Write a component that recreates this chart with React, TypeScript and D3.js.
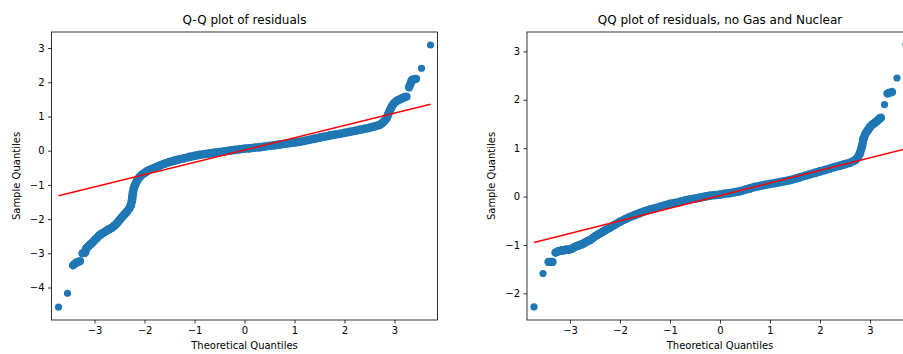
import { useEffect, useRef } from 'react';
import * as d3 from 'd3';

// tick values
const xTicks = [-3, -2, -1, 0, 1, 2, 3];
const leftYTicks = [-4, -3, -2, -1, 0, 1, 2, 3];
const rightYTicks = [-2, -1, 0, 1, 2, 3];

const titles = ['Q-Q plot of residuals', 'QQ plot of residuals, no Gas and Nuclear'];
const xLabel = 'Theoretical Quantiles';
const yLabel = 'Sample Quantiles';

// points (theoretical, sample)
const leftTheoretical = [
  -3.72, -3.54, -3.43, -3.35, -3.29, -3.24, -3.19, -3.16, -3.12, -3.09, -3.05, -3.0, -2.95, -2.9,
  -2.85, -2.8, -2.75, -2.7, -2.65, -2.6, -2.55, -2.5, -2.45, -2.4, -2.35, -2.3, -2.27, -2.25, -2.24,
  -2.23, -2.21, -2.18, -2.14, -2.1, -2.05, -2.0, -1.95, -1.9, -1.8, -1.7, -1.6, -1.5, -1.4, -1.3,
  -1.2, -1.1, -1.0, -0.9, -0.8, -0.7, -0.6, -0.5, -0.4, -0.3, -0.2, -0.1, 0.0, 0.1, 0.2, 0.3, 0.4,
  0.5, 0.6, 0.7, 0.8, 0.9, 1.0, 1.1, 1.2, 1.3, 1.4, 1.5, 1.6, 1.7, 1.8, 1.9, 2.0, 2.1, 2.2, 2.3,
  2.4, 2.5, 2.6, 2.7, 2.75, 2.8, 2.84, 2.87, 2.9, 2.93, 2.96, 3.0, 3.05, 3.09, 3.12, 3.16, 3.19,
  3.24, 3.29, 3.35, 3.43, 3.54, 3.72,
];
const leftSample = [
  -4.57, -4.17, -3.35, -3.26, -3.23, -3.0, -2.98, -2.85, -2.79, -2.75, -2.7, -2.62, -2.55, -2.47,
  -2.42, -2.38, -2.33, -2.29, -2.25, -2.19, -2.12, -2.03, -1.94, -1.86, -1.78, -1.68, -1.58, -1.45,
  -1.32, -1.2, -1.08, -0.97, -0.86, -0.77, -0.7, -0.65, -0.6, -0.56, -0.5, -0.44, -0.38, -0.33,
  -0.29, -0.25, -0.22, -0.18, -0.15, -0.12, -0.1, -0.08, -0.06, -0.04, -0.02, 0.0, 0.02, 0.04,
  0.06, 0.07, 0.09, 0.1, 0.12, 0.14, 0.16, 0.18, 0.2, 0.22, 0.24, 0.26, 0.29, 0.32, 0.35, 0.38,
  0.41, 0.44, 0.47, 0.49, 0.52, 0.55, 0.58, 0.61, 0.64, 0.67, 0.71, 0.75, 0.8, 0.87, 0.95, 1.05,
  1.15, 1.25, 1.33, 1.4, 1.46, 1.49, 1.51, 1.54, 1.56, 1.58, 1.85, 2.07, 2.1, 2.41, 3.09,
];

// points
const rightTheoretical = [
  -3.72, -3.54, -3.43, -3.35, -3.29, -3.24, -3.19, -3.16, -3.12, -3.09, -3.05, -3.0, -2.95, -2.9,
  -2.85, -2.8, -2.75, -2.7, -2.65, -2.6, -2.55, -2.5, -2.45, -2.4, -2.35, -2.3, -2.2, -2.1, -2.0,
  -1.9, -1.8, -1.7, -1.6, -1.5, -1.4, -1.3, -1.2, -1.1, -1.0, -0.9, -0.8, -0.7, -0.6, -0.5, -0.4,
  -0.3, -0.2, -0.1, 0.0, 0.1, 0.2, 0.3, 0.4, 0.5, 0.6, 0.7, 0.8, 0.9, 1.0, 1.1, 1.2, 1.3, 1.4, 1.5,
  1.6, 1.7, 1.8, 1.9, 2.0, 2.1, 2.2, 2.3, 2.4, 2.5, 2.6, 2.7, 2.75, 2.8, 2.84, 2.87, 2.91, 2.95,
  3.0, 3.05, 3.09, 3.12, 3.16, 3.19, 3.22, 3.29, 3.35, 3.44, 3.54, 3.72,
];
const rightSample = [
  -2.28, -1.59, -1.35, -1.35, -1.16, -1.13, -1.12, -1.11, -1.11, -1.1, -1.1, -1.09, -1.07, -1.04,
  -1.02, -1.0, -0.98, -0.95, -0.92, -0.9, -0.86, -0.82, -0.79, -0.76, -0.73, -0.7, -0.64, -0.58,
  -0.52, -0.47, -0.42, -0.38, -0.34, -0.3, -0.27, -0.24, -0.21, -0.18, -0.15, -0.13, -0.11, -0.08,
  -0.06, -0.04, -0.02, 0.0, 0.02, 0.03, 0.04, 0.06, 0.07, 0.09, 0.11, 0.14, 0.17, 0.2, 0.22, 0.24,
  0.26, 0.28, 0.3, 0.32, 0.34, 0.37, 0.4, 0.43, 0.46, 0.49, 0.52, 0.55, 0.58, 0.61, 0.64, 0.67,
  0.7, 0.75, 0.8, 0.9, 1.04, 1.2, 1.3, 1.36, 1.44, 1.49, 1.52, 1.54, 1.58, 1.61, 1.63, 1.9, 2.13,
  2.16, 2.45, 3.14,
];

// reference line end points
const fitX = [-3.72, 3.72];
const leftFitY = [-1.32, 1.36];
const rightFitY = [-0.95, 0.99];

const W = 903;
const H = 354;

export default function App() {
  const svgRef = useRef<SVGSVGElement>(null);

  useEffect(() => {
    const svg = d3.select(svgRef.current);
    svg.selectAll('*').remove();

    svg.append('rect').attr('width', W).attr('height', H).attr('fill', '#fff');

    const top = 32;
    const w = 386;
    const h = 288;
    const r = 3.6;
    const font = "'DejaVu Sans', sans-serif";

    const panels = [
      { left: 51.5, title: titles[0], xs: leftTheoretical, ys: leftSample, yDomain: [-4.95, 3.47], yTicks: leftYTicks, fit: leftFitY },
      { left: 527, title: titles[1], xs: rightTheoretical, ys: rightSample, yDomain: [-2.55, 3.4], yTicks: rightYTicks, fit: rightFitY },
    ];

    panels.forEach((p, i) => {
      const g = svg.append('g').attr('transform', `translate(${p.left},${top})`);
      const x = d3.scaleLinear().domain([-3.86, 3.86]).range([0, w]);
      const y = d3.scaleLinear().domain(p.yDomain).range([h, 0]);

      const clipId = `clip-${i}`;
      g.append('clipPath').attr('id', clipId)
        .append('rect').attr('width', w).attr('height', h);

      const plot = g.append('g').attr('clip-path', `url(#${clipId})`);
      const pts = p.xs.map((v, k) => [v, p.ys[k]]);

      // the real sample is dense: where neighbouring points overlap, fill the gap so the band is solid
      const pairs = d3.pairs(pts).filter(([a, b]) =>
        Math.hypot(x(b[0]) - x(a[0]), y(b[1]) - y(a[1])) < 2 * r + 1);
      plot.selectAll('line.band')
        .data(pairs)
        .join('line')
        .attr('class', 'band')
        .attr('x1', d => x(d[0][0])).attr('y1', d => y(d[0][1]))
        .attr('x2', d => x(d[1][0])).attr('y2', d => y(d[1][1]))
        .attr('stroke', '#1f77b4')
        .attr('stroke-width', 8.4)
        .attr('stroke-linecap', 'round');

      plot.selectAll('circle')
        .data(pts)
        .join('circle')
        .attr('cx', d => x(d[0]))
        .attr('cy', d => y(d[1]))
        .attr('r', r)
        .attr('fill', '#1f77b4');

      const line = d3.line<number[]>().x(d => x(d[0])).y(d => y(d[1]));
      plot.append('path')
        .datum(fitX.map((v, k) => [v, p.fit[k]]))
        .attr('d', line)
        .attr('fill', 'none')
        .attr('stroke', '#ff0000')
        .attr('stroke-width', 1.5);

      // frame
      g.append('rect')
        .attr('width', w).attr('height', h)
        .attr('fill', 'none')
        .attr('stroke', '#000')
        .attr('stroke-width', 0.8);

      // axes
      const fmt = d3.format('d');
      const xAxis = g.append('g')
        .attr('transform', `translate(0,${h})`)
        .call(d3.axisBottom(x).tickValues(xTicks).tickSize(3.5).tickSizeOuter(0).tickPadding(3.5).tickFormat(d => fmt(d as number)));
      const yAxis = g.append('g')
        .call(d3.axisLeft(y).tickValues(p.yTicks).tickSize(3.5).tickSizeOuter(0).tickPadding(3.5).tickFormat(d => fmt(d as number)));

      [xAxis, yAxis].forEach(a => {
        a.select('.domain').remove();
        a.selectAll('line').attr('stroke', '#000').attr('stroke-width', 0.8);
        a.selectAll('text').attr('font-family', font).attr('font-size', 10).attr('fill', '#000');
      });

      g.append('text')
        .attr('x', w / 2).attr('y', -8)
        .attr('text-anchor', 'middle')
        .attr('font-family', font).attr('font-size', 12)
        .text(p.title);

      g.append('text')
        .attr('x', w / 2).attr('y', h + 29)
        .attr('text-anchor', 'middle')
        .attr('font-family', font).attr('font-size', 10)
        .text(xLabel);

      g.append('text')
        .attr('transform', `translate(-32,${h / 2}) rotate(-90)`)
        .attr('text-anchor', 'middle')
        .attr('font-family', font).attr('font-size', 10)
        .text(yLabel);
    });
  }, []);

  return (
    <svg ref={svgRef} width={W} height={H} style={{ position: 'absolute', left: 0, top: 0, display: 'block' }} />
  );
}
